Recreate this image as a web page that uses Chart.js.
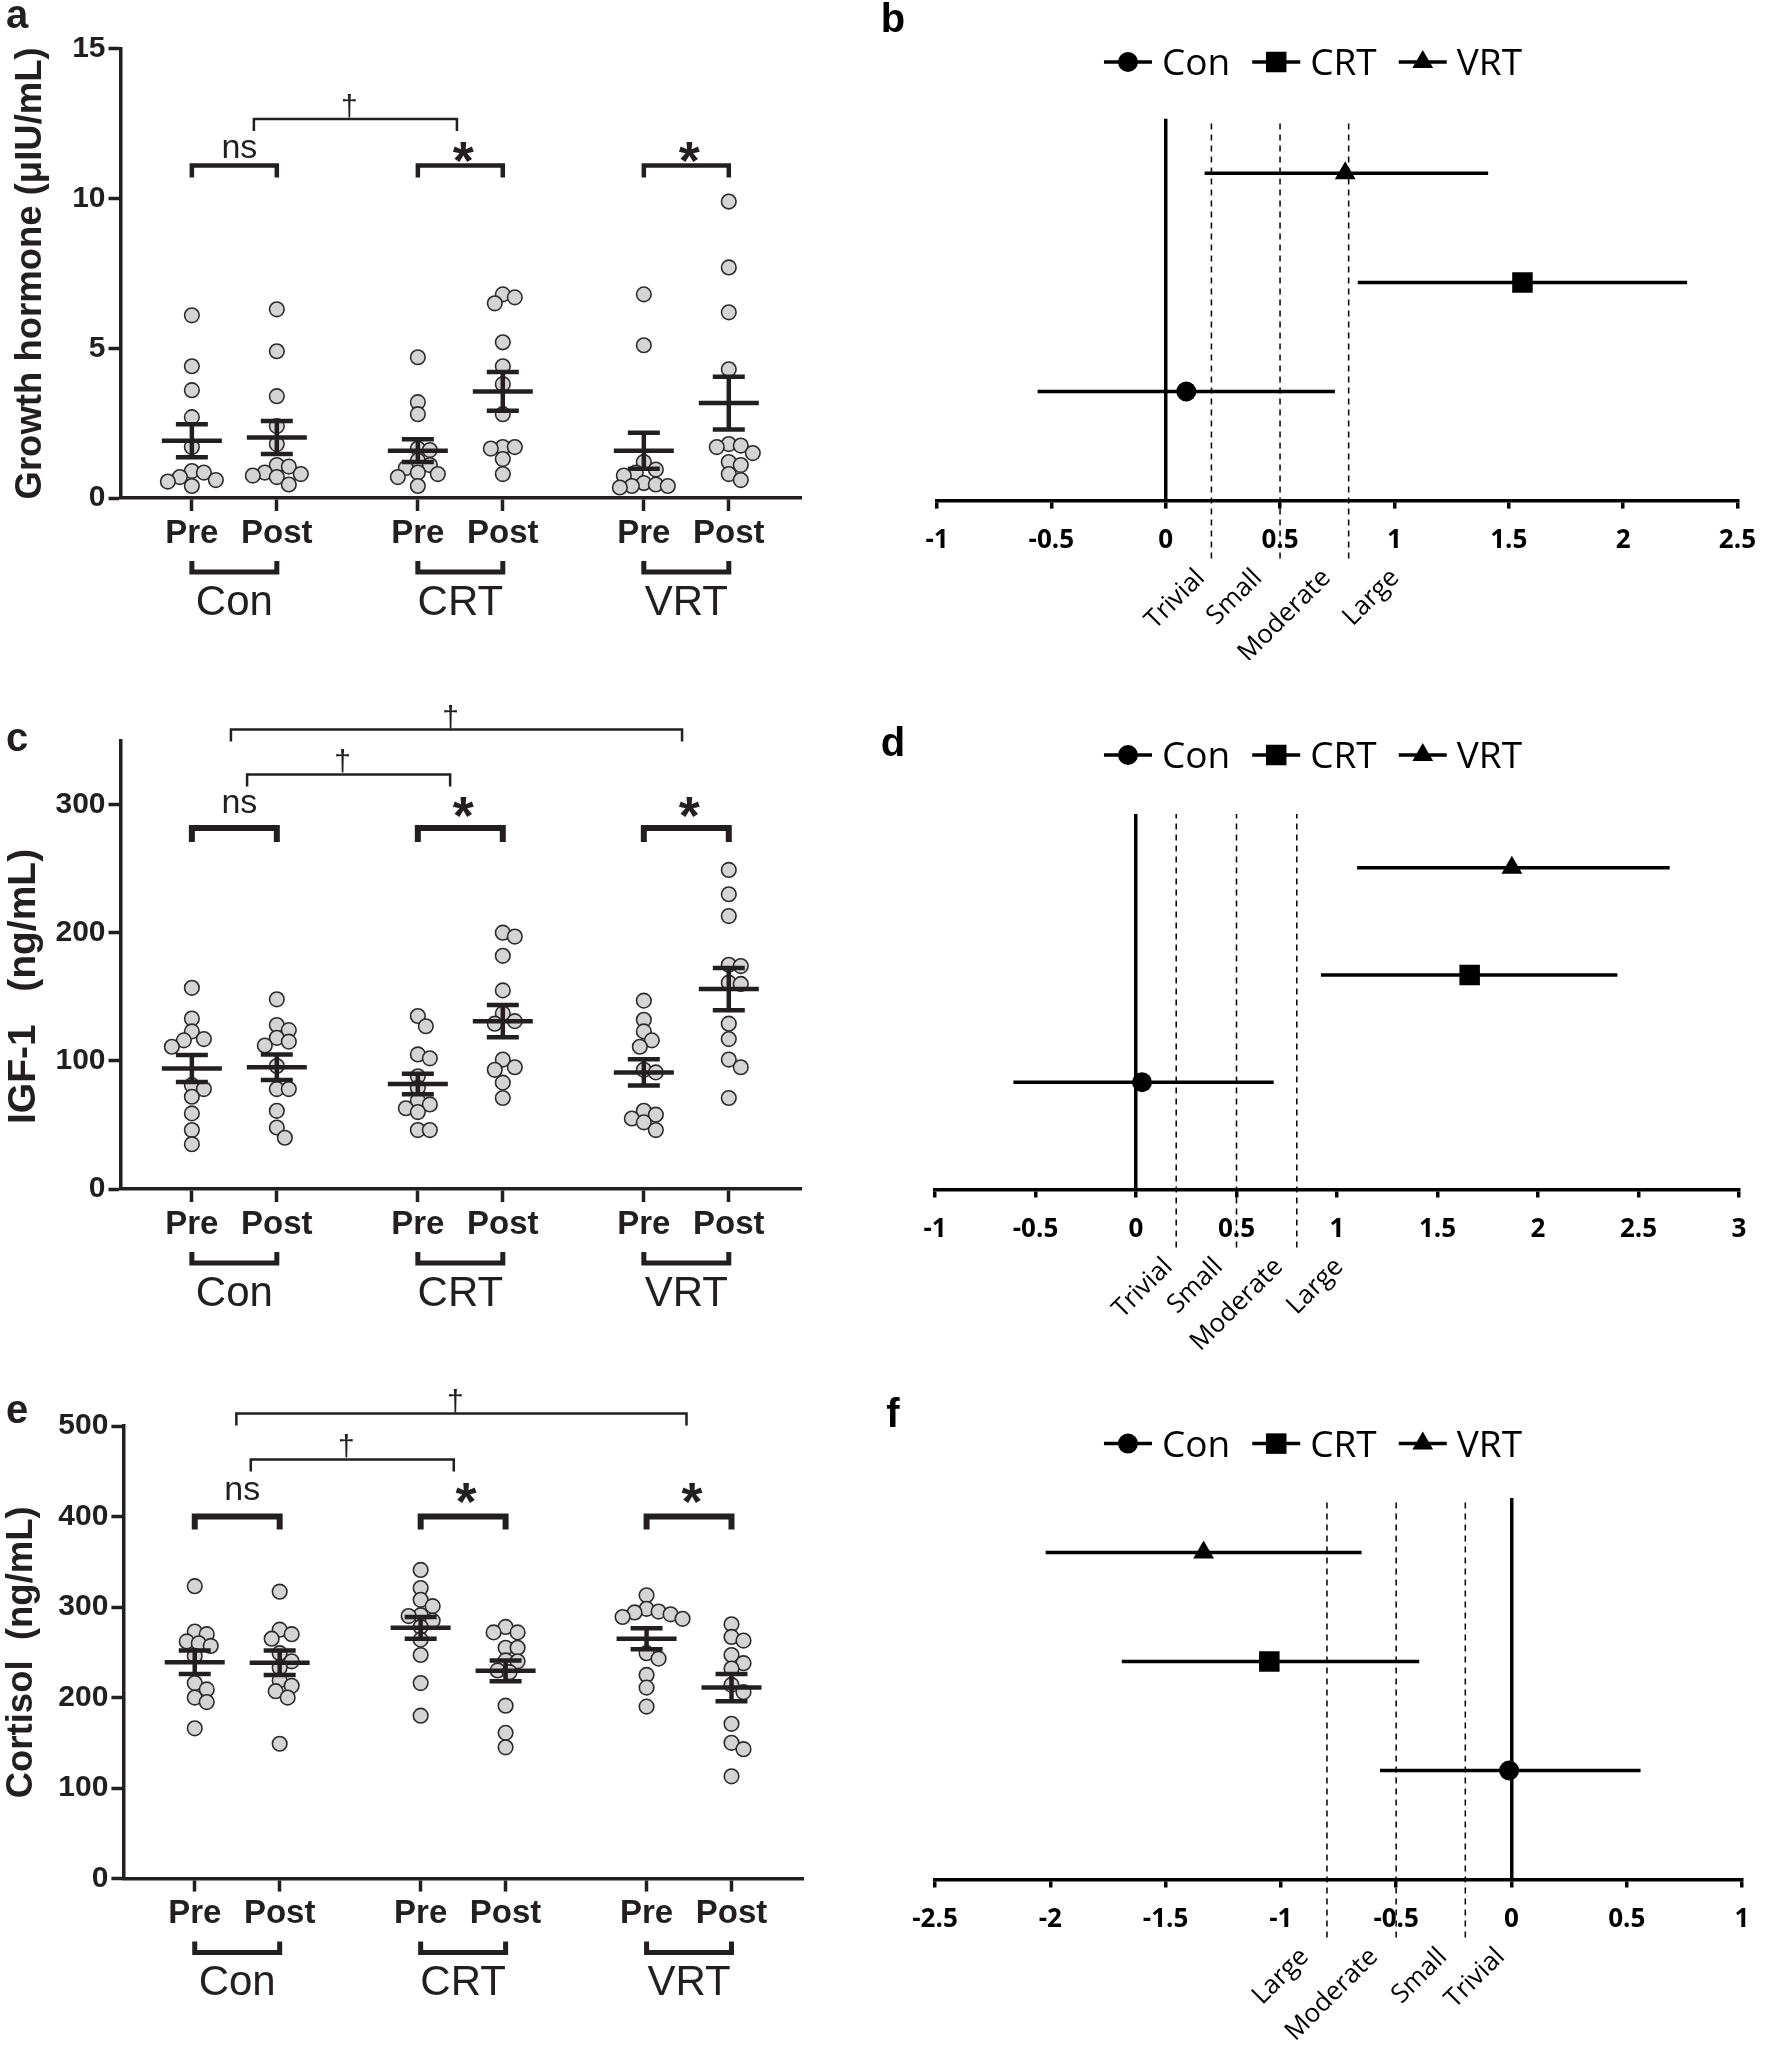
<!DOCTYPE html>
<html>
<head>
<meta charset="utf-8">
<script src="https://cdn.jsdelivr.net/npm/chart.js@4.4.1/dist/chart.umd.min.js"></script>
<style>
  html, body { margin: 0; padding: 0; background: #fff; }
  #page { position: relative; width: 1772px; height: 2045px; overflow: hidden; }
  canvas { position: absolute; }
</style>
</head>
<body>
<div id="page">
  <canvas id="panelA" width="870" height="660" style="left:0;top:0"></canvas>
  <canvas id="panelC" width="870" height="700" style="left:0;top:660px"></canvas>
  <canvas id="panelE" width="870" height="685" style="left:0;top:1360px"></canvas>
  <canvas id="panelB" width="900" height="660" style="left:872px;top:0"></canvas>
  <canvas id="panelD" width="900" height="700" style="left:872px;top:660px"></canvas>
  <canvas id="panelF" width="900" height="685" style="left:872px;top:1360px"></canvas>
</div>
<script>
// ---- data ---------------------------------------------------------------
var groups = ['Con', 'CRT', 'VRT'];
var phaseLabels = ['Pre', 'Post', 'Pre', 'Post', 'Pre', 'Post'];
var columnX = [1, 2, 3.66, 4.66, 6.32, 7.32];

// growth hormone (uIU/mL), one list per column
var ghConPre  = [6.1, 4.4, 3.6, 2.7, 1.7, 0.9, 0.85, 0.7, 0.6, 0.55, 0.4];
var ghConPost = [6.3, 4.9, 3.4, 2.4, 1.8, 1.1, 1.05, 0.85, 0.8, 0.75, 0.7, 0.45];
var ghCrtPre  = [4.7, 3.2, 2.8, 1.65, 1.6, 1.25, 1.1, 1.0, 0.85, 0.8, 0.7, 0.4];
var ghCrtPost = [6.8, 6.7, 6.5, 5.2, 4.4, 3.8, 2.8, 1.7, 1.7, 1.65, 1.3, 0.8];
var ghVrtPre  = [6.8, 5.1, 1.2, 0.95, 0.85, 0.75, 0.5, 0.45, 0.4, 0.4, 0.35];
var ghVrtPost = [9.9, 7.7, 6.2, 4.3, 1.8, 1.75, 1.7, 1.5, 1.2, 1.1, 0.8, 0.6];
var ghMean = [1.91, 2.02, 1.58, 3.56, 1.58, 3.17];
var ghSem  = [0.55, 0.55, 0.38, 0.65, 0.6, 0.88];

// IGF-1 (ng/mL)
var igfConPre  = [157, 133, 123, 117, 116, 111, 81, 78, 72, 59, 46, 35];
var igfConPost = [148, 128, 124, 118, 115, 112, 96, 78, 78, 61, 48, 40];
var igfCrtPre  = [135, 127, 105, 102, 88, 79, 69, 66, 63, 60, 46, 46];
var igfCrtPost = [200, 197, 182, 155, 137, 131, 129, 101, 95, 93, 83, 71];
var igfVrtPre  = [147, 132, 123, 116, 111, 93, 91, 61, 58, 55, 52, 46];
var igfVrtPost = [249, 230, 213, 175, 174, 161, 160, 129, 117, 101, 95, 71];
var igfMean = [94, 95, 82, 131, 91, 156];
var igfSem  = [10.5, 10, 8, 12.5, 10.3, 16.5];

// cortisol (ng/mL)
var cortConPre  = [323, 273, 270, 262, 260, 257, 246, 216, 209, 200, 195, 166];
var cortConPost = [317, 275, 270, 265, 249, 240, 233, 219, 213, 207, 200, 149];
var cortCrtPre  = [341, 321, 308, 301, 291, 290, 285, 278, 264, 247, 216, 180];
var cortCrtPost = [278, 272, 272, 255, 255, 241, 240, 230, 228, 191, 161, 145];
var cortVrtPre  = [313, 298, 295, 294, 292, 289, 287, 249, 243, 225, 211, 190];
var cortVrtPost = [281, 267, 263, 247, 238, 232, 214, 206, 171, 150, 143, 113];
var cortMean = [239, 238.5, 277, 229.5, 265, 211];
var cortSem  = [13, 13.5, 12, 11.5, 11.5, 15];

// effect sizes with confidence limits: Con, CRT, VRT
var ghEffect = [0.09, 1.56, 0.785];
var ghLow    = [-0.56, 0.84, 0.17];
var ghHigh   = [0.74, 2.28, 1.41];
var igfEffect = [0.03, 1.66, 1.87];
var igfLow    = [-0.61, 0.92, 1.10];
var igfHigh   = [0.685, 2.395, 2.655];
var cortEffect = [-0.01, -1.05, -1.335];
var cortLow    = [-0.57, -1.69, -2.02];
var cortHigh   = [0.56, -0.40, -0.65];

var magnitudeThresholds = [0.2, 0.5, 0.8];
var magnitudeLabels = ['Trivial', 'Small', 'Moderate', 'Large'];

// ---- drawing helpers ----------------------------------------------------
var INK = '#231f20';
var LEFT_FONT = "'Liberation Sans', Arial, sans-serif";
var RIGHT_FONT = "'Open Sans', 'Noto Sans', sans-serif";
var markerStyles = ['circle', 'rect', 'triangle'];
var markerRadius = [10, 14.5, 12];

function line(ctx, x1, y1, x2, y2) {
  ctx.beginPath(); ctx.moveTo(x1, y1); ctx.lineTo(x2, y2); ctx.stroke();
}

function bracket(ctx, x1, x2, y, tick) {
  ctx.beginPath();
  ctx.moveTo(x1, y + tick); ctx.lineTo(x1, y); ctx.lineTo(x2, y); ctx.lineTo(x2, y + tick);
  ctx.stroke();
}

function glyphCenter(ctx, text, x, cy) {
  var m = ctx.measureText(text);
  ctx.textBaseline = 'alphabetic';
  ctx.fillText(text, x, cy + (m.actualBoundingBoxAscent - m.actualBoundingBoxDescent) / 2);
}

function glyphBottom(ctx, text, x, by) {
  var m = ctx.measureText(text);
  ctx.textBaseline = 'alphabetic';
  ctx.fillText(text, x, by - m.actualBoundingBoxDescent);
}

// spread overlapping dots sideways, like a column scatter
function swarm(columns, pxPerX, pxPerY, minDist, step) {
  var pts = [];
  columns.forEach(function (vals, c) {
    var placed = [];
    var order = vals.map(function (v, i) { return i; }).sort(function (a, b) { return vals[b] - vals[a]; });
    order.forEach(function (i) {
      var py = vals[i] * pxPerY;
      var off = 0;
      for (var k = 0; k < 80; k++) {
        var cand = k === 0 ? 0 : (k % 2 ? 1 : -1) * Math.ceil(k / 2) * step;
        var ok = placed.every(function (p) { return Math.hypot(p.x - cand, p.y - py) >= minDist; });
        if (ok) { off = cand; break; }
      }
      placed.push({ x: off, y: py });
      pts.push({ x: columnX[c] + off / pxPerX, y: vals[i] });
    });
  });
  return pts;
}

function tickText(v) { return String(Math.round(v * 100) / 100); }

// ---- left panels: individual values with mean +/- SEM ---------------------
function dotPanel(cfg) {
  var canvas = document.getElementById(cfg.id);
  var W = canvas.width, H = canvas.height, a = cfg.area;
  var xMin = 0.16, xMax = 8.17;
  var pxPerX = (a.right - a.left) / (xMax - xMin);
  var pxPerY = (a.bottom - a.top) / cfg.yMax;
  var points = swarm(cfg.columns, pxPerX, pxPerY, 11.5, 4);

  var decor = {
    id: 'decor',
    afterDatasetsDraw: function (chart) {
      var ctx = chart.ctx, x = chart.scales.x, y = chart.scales.y;
      ctx.save();
      ctx.strokeStyle = INK; ctx.lineWidth = 4.5;
      cfg.means.forEach(function (m, i) {
        var px = x.getPixelForValue(columnX[i]);
        var pm = y.getPixelForValue(m);
        var pu = y.getPixelForValue(m + cfg.sems[i]);
        var pl = y.getPixelForValue(m - cfg.sems[i]);
        line(ctx, px - 30, pm, px + 30, pm);
        line(ctx, px, pu, px, pl);
        line(ctx, px - 16, pu, px + 16, pu);
        line(ctx, px - 16, pl, px + 16, pl);
      });
      ctx.restore();
    },
    afterDraw: function (chart) {
      var ctx = chart.ctx, x = chart.scales.x, y = chart.scales.y, area = chart.chartArea;
      ctx.save();
      ctx.fillStyle = INK; ctx.strokeStyle = INK; ctx.textAlign = 'center';
      ctx.lineJoin = 'miter'; ctx.lineCap = 'butt';

      // Pre vs Post within each group
      groups.forEach(function (g, gi) {
        var x1 = x.getPixelForValue(columnX[2 * gi]), x2 = x.getPixelForValue(columnX[2 * gi + 1]);
        var yb = y.getPixelForValue(cfg.pairY);
        ctx.lineWidth = cfg.pairWidth;
        bracket(ctx, x1, x2, yb, cfg.pairTick);
        var lab = cfg.pairLabels[gi];
        if (lab === '*') {
          ctx.font = 'bold 54px ' + LEFT_FONT;
          glyphCenter(ctx, lab, (x1 + x2) / 2 + 3, yb - cfg.starGap);
        } else {
          ctx.font = '34px ' + LEFT_FONT;
          glyphCenter(ctx, lab, (x1 + x2) / 2 + 5, yb - cfg.nsGap);
        }
      });

      // between-group comparisons
      cfg.daggers.forEach(function (d) {
        var x1 = x.getPixelForValue(d.from), x2 = x.getPixelForValue(d.to);
        var yb = y.getPixelForValue(d.y);
        ctx.lineWidth = 2.5;
        bracket(ctx, x1, x2, yb, 12);
        ctx.font = '30px ' + LEFT_FONT;
        glyphBottom(ctx, '\u2020', (x1 + x2) / 2 - 6, yb - 1);
      });

      // group brackets and names below the axis
      groups.forEach(function (g, gi) {
        var x1 = x.getPixelForValue(columnX[2 * gi]), x2 = x.getPixelForValue(columnX[2 * gi + 1]);
        ctx.lineWidth = 5;
        bracket(ctx, x1, x2, area.bottom + 74, -11);
        ctx.font = '42px ' + LEFT_FONT;
        glyphCenter(ctx, g, (x1 + x2) / 2, area.bottom + 102);
      });

      ctx.font = 'bold 40px ' + LEFT_FONT;
      glyphCenter(ctx, cfg.letter, 17, cfg.letterY);
      ctx.restore();
    }
  };

  return new Chart(canvas, {
    type: 'scatter',
    data: {
      datasets: [{
        data: points,
        pointRadius: 7.3,
        pointBorderWidth: 1.6,
        pointBackgroundColor: '#d4d4d4',
        pointBorderColor: '#2b2b2b'
      }]
    },
    options: {
      responsive: false,
      animation: false,
      devicePixelRatio: 1,
      events: [],
      layout: { padding: { top: a.top, left: 0, right: W - a.right, bottom: 0 } },
      plugins: { legend: { display: false }, tooltip: { enabled: false } },
      scales: {
        x: {
          type: 'linear', min: xMin, max: xMax,
          afterFit: function (s) { s.height = H - a.bottom; },
          afterBuildTicks: function (s) { s.ticks = columnX.map(function (v) { return { value: v }; }); },
          grid: { drawOnChartArea: false, drawTicks: true, tickLength: 13, tickWidth: 3.5, tickColor: INK, color: INK },
          border: { color: INK, width: 3.5 },
          ticks: {
            autoSkip: false, maxRotation: 0, padding: 3, color: INK,
            font: { family: LEFT_FONT, size: 33, weight: 'bold' },
            callback: function (v, i) { return phaseLabels[i]; }
          }
        },
        y: {
          min: 0, max: cfg.yMax,
          afterFit: function (s) { s.width = a.left; },
          grid: { drawOnChartArea: false, drawTicks: true, tickLength: 12, tickWidth: 3.5, tickColor: INK, color: INK },
          border: { color: INK, width: 3.5 },
          ticks: {
            stepSize: cfg.yStep, includeBounds: false, padding: 3, color: INK,
            font: { family: LEFT_FONT, size: 30, weight: 'bold' }
          },
          title: {
            display: true, text: cfg.title, color: INK,
            font: { family: LEFT_FONT, size: cfg.titleSize, weight: 'bold' },
            padding: { top: cfg.titlePad, bottom: 0 }
          }
        }
      }
    },
    plugins: [decor]
  });
}

// ---- right panels: effect sizes ----------------------------------------
function effectPanel(cfg) {
  var canvas = document.getElementById(cfg.id);
  var W = canvas.width, H = canvas.height, a = cfg.area;
  var pxPerY = (a.bottom - a.top) / 3.5;
  var below = 58 / pxPerY;
  var datasets = [];

  magnitudeThresholds.forEach(function (t) {
    datasets.push({
      type: 'line',
      data: [{ x: cfg.sign * t, y: -below }, { x: cfg.sign * t, y: 3.5 }],
      borderColor: '#000', borderWidth: 1.5, borderDash: [6, 5],
      pointRadius: 0, clip: false
    });
  });
  groups.forEach(function (g, gi) {
    datasets.push({
      label: g,
      data: [
        { x: cfg.low[gi], y: gi + 1 },
        { x: cfg.effect[gi], y: gi + 1 },
        { x: cfg.high[gi], y: gi + 1 }
      ],
      showLine: true,
      borderColor: '#000', borderWidth: 3.5,
      pointRadius: [0, markerRadius[gi], 0],
      pointStyle: markerStyles[gi],
      pointBackgroundColor: '#000', pointBorderWidth: 0
    });
  });

  var decor = {
    id: 'decor',
    afterDraw: function (chart) {
      var ctx = chart.ctx, x = chart.scales.x, area = chart.chartArea;
      ctx.save();
      ctx.fillStyle = '#000'; ctx.strokeStyle = '#000';

      // legend: line with marker, then name
      ctx.font = '37px ' + RIGHT_FONT;
      var widths = groups.map(function (g) { return ctx.measureText(g).width; });
      var seg = 48, gapText = 10, gapItem = 22;
      var total = widths.reduce(function (s, w) { return s + seg + gapText + w; }, 0) + gapItem * (groups.length - 1);
      var lx = cfg.legendCenter - total / 2, ly = cfg.legendY;
      var capH = ctx.measureText('C').actualBoundingBoxAscent;
      groups.forEach(function (g, gi) {
        ctx.lineWidth = 3.5;
        line(ctx, lx, ly, lx + seg, ly);
        Chart.helpers.drawPoint(ctx, { pointStyle: markerStyles[gi], radius: markerRadius[gi], rotation: 0, borderWidth: 0 }, lx + seg / 2, ly);
        ctx.textAlign = 'left'; ctx.textBaseline = 'alphabetic';
        ctx.fillText(g, lx + seg + gapText, ly + capH / 2);
        lx += seg + gapText + widths[gi] + gapItem;
      });

      // magnitude labels under the axis
      ctx.font = '26px ' + RIGHT_FONT;
      var bounds = [0].concat(magnitudeThresholds, [1.1]).map(function (v) { return v * cfg.sign; });
      magnitudeLabels.forEach(function (lab, i) {
        var mid = (bounds[i] + bounds[i + 1]) / 2;
        ctx.save();
        ctx.translate(x.getPixelForValue(mid) + 3, area.bottom + 64);
        ctx.rotate(-Math.PI / 4);
        ctx.textAlign = 'right'; ctx.textBaseline = 'top';
        ctx.fillText(lab, 0, 0);
        ctx.restore();
      });

      ctx.font = 'bold 40px ' + LEFT_FONT;
      ctx.textAlign = 'center';
      glyphCenter(ctx, cfg.letter, 21, cfg.letterY);
      ctx.restore();
    }
  };

  return new Chart(canvas, {
    type: 'scatter',
    data: { datasets: datasets },
    options: {
      responsive: false,
      animation: false,
      devicePixelRatio: 1,
      events: [],
      layout: { padding: { top: a.top, left: a.left, right: W - a.right, bottom: 0 } },
      plugins: { legend: { display: false }, tooltip: { enabled: false } },
      scales: {
        x: {
          type: 'linear', min: cfg.xMin, max: cfg.xMax,
          afterFit: function (s) { s.height = H - a.bottom; },
          grid: {
            color: function (c) { return (c.tick && c.tick.value === 0) ? '#000' : 'rgba(0,0,0,0)'; },
            lineWidth: 3.5, drawTicks: true, tickLength: 8, tickColor: '#000', tickWidth: 3.5
          },
          border: { display: true, color: '#000', width: 3.5 },
          ticks: {
            stepSize: 0.5, autoSkip: false, maxRotation: 0, padding: 16, color: '#000',
            font: { family: RIGHT_FONT, size: 26, weight: 'bold' },
            callback: tickText
          }
        },
        y: { display: false, min: 0, max: 3.5 }
      }
    },
    plugins: [decor]
  });
}

// ---- build the six panels ----------------------------------------------
dotPanel({
  id: 'panelA', letter: 'a', letterY: 17,
  area: { left: 120.5, right: 801, top: 48.8, bottom: 498 },
  columns: [ghConPre, ghConPost, ghCrtPre, ghCrtPost, ghVrtPre, ghVrtPost],
  means: ghMean, sems: ghSem,
  yMax: 15, yStep: 5, title: 'Growth hormone (\u03bcIU/mL)', titleSize: 36.5, titlePad: 9,
  pairY: 11.1, pairTick: 12, pairWidth: 4.5, nsGap: 16.7, starGap: 12.7,
  pairLabels: ['ns', '*', '*'],
  daggers: [{ from: 1.73, to: 4.12, y: 12.66 }]
});

dotPanel({
  id: 'panelC', letter: 'c', letterY: 80,
  area: { left: 120.5, right: 801, top: 80.5, bottom: 529 },
  columns: [igfConPre, igfConPost, igfCrtPre, igfCrtPost, igfVrtPre, igfVrtPost],
  means: igfMean, sems: igfSem,
  yMax: 350, yStep: 100,
  title: 'IGF-1\u00a0\u00a0\u00a0(ng/mL)\u00a0\u00a0\u00a0\u00a0', titleSize: 39, titlePad: 1,
  pairY: 281.8, pairTick: 14, pairWidth: 6, nsGap: 24, starGap: 20,
  pairLabels: ['ns', '*', '*'],
  daggers: [{ from: 1.65, to: 4.04, y: 323.5 }, { from: 1.46, to: 6.77, y: 358.5 }]
});

dotPanel({
  id: 'panelE', letter: 'e', letterY: 52,
  area: { left: 123.4, right: 803.7, top: 66, bottom: 518.6 },
  columns: [cortConPre, cortConPost, cortCrtPre, cortCrtPost, cortVrtPre, cortVrtPost],
  means: cortMean, sems: cortSem,
  yMax: 500, yStep: 100, title: 'Cortisol\u00a0\u00a0(ng/mL)', titleSize: 36.5, titlePad: 0,
  pairY: 400, pairTick: 13, pairWidth: 6, nsGap: 25.8, starGap: 23,
  pairLabels: ['ns', '*', '*'],
  daggers: [{ from: 1.66, to: 4.05, y: 463 }, { from: 1.49, to: 6.79, y: 513.7 }]
});

effectPanel({
  id: 'panelB', letter: 'b', letterY: 17,
  area: { left: 65, right: 873.7, top: 118.8, bottom: 500.6 },
  xMin: -1, xMax: 2.5, sign: 1,
  effect: ghEffect, low: ghLow, high: ghHigh,
  legendCenter: 441, legendY: 62
});

effectPanel({
  id: 'panelD', letter: 'd', letterY: 80.5,
  area: { left: 63, right: 867, top: 154, bottom: 529.5 },
  xMin: -1, xMax: 3, sign: 1,
  effect: igfEffect, low: igfLow, high: igfHigh,
  legendCenter: 441, legendY: 95
});

effectPanel({
  id: 'panelF', letter: 'f', letterY: 52,
  area: { left: 63, right: 870, top: 138, bottom: 519.5 },
  xMin: -2.5, xMax: 1, sign: -1,
  effect: cortEffect, low: cortLow, high: cortHigh,
  legendCenter: 441, legendY: 83.6
});
</script>
</body>
</html>
